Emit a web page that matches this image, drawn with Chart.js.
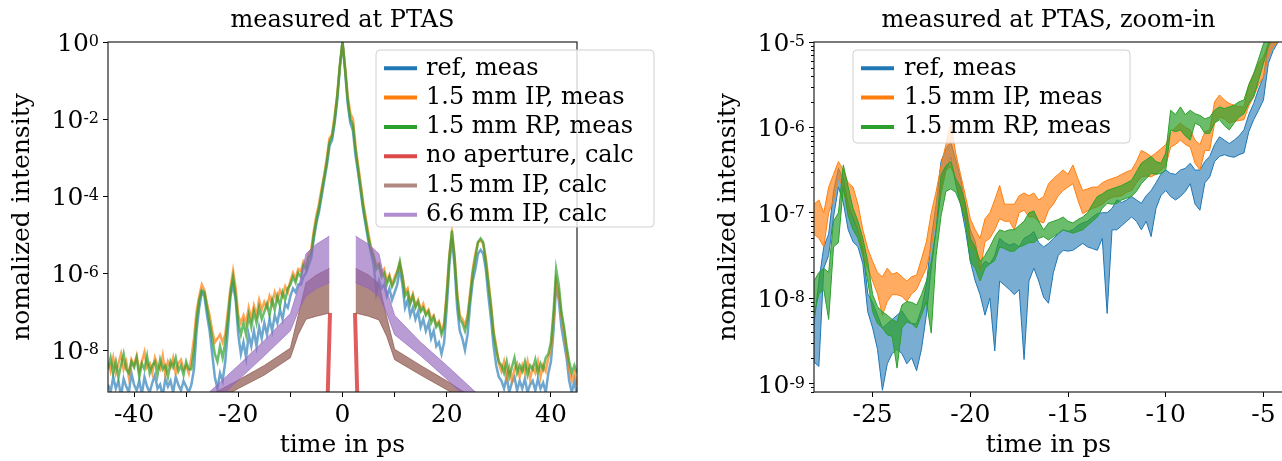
<!DOCTYPE html>
<html>
<head>
<meta charset="utf-8">
<title>measured at PTAS</title>
<script src="https://cdn.jsdelivr.net/npm/chart.js@4.4.1/dist/chart.umd.min.js"></script>
<style>
  html, body { margin: 0; padding: 0; background: #fff; overflow: hidden; }
  #wrap { position: relative; width: 1282px; height: 461px; overflow: hidden; }
  #left { position: absolute; left: 0; top: 0; }
  #right { position: absolute; left: 656px; top: 0; }
</style>
</head>
<body>
<div id="wrap">
  <canvas id="left" width="656" height="461"></canvas>
  <canvas id="right" width="640" height="461"></canvas>
</div>
<script>
var FONT = '"DejaVu Serif", serif';
Chart.defaults.font.family = FONT;
Chart.defaults.color = '#000';

// sampling grids (time in ps)
var tLeft = Array.from({length: 181}, function (_, i) { return -45 + i * 0.5; });
var tRight = Array.from({length: 97}, function (_, i) { return -28 + i * 0.25; });

// left panel, measured traces, log10(normalized intensity)
var refMeas = [
  -8.9,-9.1,-8.7,-9.0,-8.8,-9.2,-8.75,-8.95,-9.1,-8.6,-8.9,-9.05,-8.8,-9.15,-8.7,-8.95,
  -9.1,-8.85,-8.65,-9.0,-8.9,-9.2,-8.75,-8.95,-8.8,-9.1,-8.7,-8.9,-9.05,-8.8,-8.95,-9.1,
  -8.9,-8.5,-7.5,-6.9,-6.5,-6.6,-7.1,-7.5,-8.1,-8.7,-9.0,-8.6,-8.8,-8.3,-7.5,-6.6,-6.3,-6.7,-7.6,-8.1,
  -7.8,-8.2,-7.6,-7.9,-7.5,-7.9,-7.4,-7.7,-7.3,-7.6,-7.2,-7.5,-7.1,-7.3,-6.95,-7.2,-6.8,-6.9,
  -6.6,-6.4,-6.5,-6.3,-6.3,-6.1,-6.0,-5.8,-5.6,-5.1,-4.7,-4.4,-4.0,-3.6,-3.2,-2.7,-2.55,-2.1,-1.5,-0.65,
  0,
  -0.75,-1.6,-2.1,-2.3,-2.95,-3.4,-3.9,-4.4,-4.8,-5.2,-5.5,-5.8,-6.5,-6.2,-6.4,-6.3,-6.6,-6.4,-6.7,-6.5,
  -6.3,-5.9,-6.3,-6.9,-6.7,-7.1,-6.9,-7.2,-7.0,-7.4,-7.2,-7.5,-7.3,-7.7,-7.5,-7.9,-7.8,-8.1,-7.8,-6.9,
  -5.8,-5.1,-5.8,-6.9,-7.5,-7.7,-8.0,-7.6,-6.8,-6.2,-5.9,-5.5,-5.4,-5.5,-5.9,-6.6,-7.2,-7.9,-8.4,-8.7,
  -8.8,-9.0,-8.7,-9.1,-8.85,-8.7,-9.05,-8.8,-9.0,-8.75,-9.1,-8.9,-8.8,-9.05,-8.75,
  -9.0,-8.85,-9.1,-8.6,-8.3,-7.5,-6.3,-6.7,-7.4,-7.8,-8.2,-8.8,-9.1,-8.8,-9.2
];
var ipMeas = [
  -8.3,-8.55,-8.2,-8.6,-8.35,-8.1,-8.5,-8.3,-8.7,-8.25,-8.4,-8.15,-8.55,-8.3,-8.05,-8.45,
  -8.35,-8.6,-8.2,-8.4,-8.5,-8.15,-8.65,-8.3,-8.45,-8.2,-8.6,-8.35,-8.25,-8.5,-8.4,-8.6,
  -8.2,-7.7,-7.0,-6.6,-6.3,-6.45,-6.8,-7.1,-7.5,-7.8,-7.7,-7.6,-7.8,-7.6,-7.0,-6.4,-5.95,-6.4,-7.1,-7.3,
  -7.1,-7.3,-6.9,-7.2,-6.85,-7.1,-6.7,-6.95,-6.75,-6.9,-6.6,-6.8,-6.5,-6.7,-6.45,-6.6,-6.35,-6.5,
  -6.2,-6.0,-6.15,-5.9,-5.95,-5.7,-5.8,-5.5,-5.4,-4.9,-4.5,-4.2,-3.8,-3.45,-3.0,-2.5,-2.4,-1.9,-1.35,-0.6,
  0,
  -0.65,-1.4,-1.85,-2.0,-2.7,-3.2,-3.7,-4.2,-4.6,-5.0,-5.35,-5.55,-5.8,-5.75,-6.0,-5.9,-6.2,-6.05,-6.3,-6.1,
  -5.95,-5.75,-6.05,-6.5,-6.4,-6.75,-6.55,-6.85,-6.7,-6.95,-6.8,-7.05,-6.95,-7.2,-7.1,-7.35,-7.25,-7.5,-7.3,-6.5,
  -5.55,-4.95,-5.55,-6.5,-7.1,-7.2,-7.35,-7.1,-6.5,-5.9,-5.5,-5.2,-5.15,-5.25,-5.6,-6.2,-6.8,-7.5,-7.9,-8.35,
  -8.55,-8.3,-8.7,-8.45,-8.8,-8.5,-8.35,-8.7,-8.4,-8.6,-8.3,-8.75,-8.45,-8.6,-8.3,
  -8.7,-8.4,-8.55,-8.2,-8.0,-7.2,-6.2,-6.5,-7.1,-7.5,-8.0,-8.5,-8.8,-8.6,-8.9
];
var rpMeas = [
  -8.5,-8.2,-8.6,-8.3,-8.7,-8.4,-8.1,-8.5,-8.6,-8.3,-8.45,-8.2,-8.7,-8.35,-8.5,-8.15,
  -8.6,-8.4,-8.3,-8.65,-8.25,-8.5,-8.4,-8.7,-8.3,-8.45,-8.2,-8.55,-8.4,-8.65,-8.3,-8.5,
  -8.5,-8.0,-7.2,-6.7,-6.45,-6.5,-6.9,-7.3,-7.7,-8.1,-8.3,-7.9,-8.2,-7.8,-7.2,-6.5,-6.1,-6.6,-7.3,-7.6,
  -7.3,-7.6,-7.1,-7.4,-7.0,-7.3,-6.9,-7.2,-7.0,-6.8,-7.1,-6.7,-6.95,-6.6,-6.85,-6.5,-6.7,-6.4,
  -6.3,-6.1,-6.25,-6.0,-6.1,-5.8,-5.9,-5.6,-5.5,-5.0,-4.6,-4.3,-3.9,-3.5,-3.1,-2.6,-2.45,-2.0,-1.4,-0.6,
  0,
  -0.7,-1.5,-2.0,-2.15,-2.8,-3.3,-3.8,-4.3,-4.7,-5.1,-5.4,-5.6,-5.9,-5.8,-6.1,-6.0,-6.3,-6.1,-6.35,-6.2,
  -6.0,-5.7,-6.1,-6.6,-6.5,-6.8,-6.6,-6.9,-6.75,-7.0,-6.9,-7.1,-7.0,-7.3,-7.15,-7.4,-7.3,-7.6,-7.4,-6.6,
  -5.6,-4.9,-5.6,-6.6,-7.2,-7.3,-7.5,-7.2,-6.6,-6.0,-5.6,-5.2,-5.1,-5.2,-5.7,-6.3,-6.9,-7.6,-8.0,-8.3,
  -8.4,-8.6,-8.3,-8.7,-8.45,-8.2,-8.6,-8.4,-8.55,-8.3,-8.65,-8.4,-8.5,-8.25,-8.6,
  -8.35,-8.5,-8.2,-8.1,-7.8,-7.0,-5.9,-6.3,-7.0,-7.4,-7.9,-8.3,-8.6,-8.4,-8.6
];

// left panel, calculated curves (log10), null = gap around the main peak
var calcT = [-26, -24, -20, -15, -10, -8.5, -7, -5, -2.5, 0, 2.5, 5, 7, 8.5, 10, 15, 20, 24, 26];
var ip15CalcHi = [-9.25, -9.07, -8.78, -8.4, -7.95, -7.1, -6.25, -6.05, -5.88, null, -5.88, -6.05, -6.28, -7.15, -7.98, -8.4, -8.8, -9.15, -9.3];
var ip15CalcLo = [-9.5, -9.32, -9.0, -8.65, -8.2, -7.6, -7.2, -7.12, -7.04, null, -7.04, -7.12, -7.22, -7.65, -8.25, -8.65, -9.03, -9.38, -9.55];
var ip66CalcHi = [-9.15, -8.9, -8.4, -7.75, -7.05, -6.4, -5.5, -5.25, -5.04, null, -5.04, -5.25, -5.5, -6.45, -7.1, -7.8, -8.4, -8.9, -9.15];
var ip66CalcLo = [-9.55, -9.3, -8.78, -8.15, -7.5, -7.0, -6.6, -6.4, -6.25, null, -6.25, -6.4, -6.6, -7.05, -7.6, -8.15, -8.75, -9.3, -9.55];
var noApT = [-3.0, -2.8, -2.4, 0, 2.4, 2.8, 3.0];
var noApCalc = [-10, -9.0, -7.04, null, -7.04, -9.0, -10];

// right panel, min / max envelopes (log10), -28 .. -4 ps
var refHi = [-8.3,
  -7.8,-7.4,-7.25,-6.75, -6.48,-6.6,-6.9,-7.07, -7.2,-7.42,-7.95,-8.05, -8.2,-8.35,-8.3,-8.25,
  -8.2,-8.15,-8.24,-8.3, -8.3,-8.13,-7.85,-7.3, -6.9,-6.4,-6.25,-6.17, -6.38,-6.6,-6.9,-7.2,
  -7.34,-7.65,-7.57,-7.6, -7.5,-7.3,-7.35,-7.38, -7.36,-7.4,-7.3,-7.27, -7.22,-7.35,-7.4,-7.36,
  -7.3,-7.25,-7.2,-7.22, -7.2,-7.15,-7.12,-7.1, -7.05,-7.01,-7.0,-7.0, -6.95,-6.85,-6.88,-6.85,
  -6.81,-6.85,-6.89,-6.8, -6.74,-6.65,-6.55,-6.5, -6.54,-6.55,-6.5,-6.48, -6.42,-6.5,-6.5,-6.4,
  -6.34,-6.2,-6.11,-6.15, -6.19,-6.15,-6.1,-6.03, -5.85,-5.72,-5.55,-5.41, -5.02,-4.9,-4.85,-4.8];
var refLo = [-8.75,
  -8.8,-7.65,-7.5,-7.05, -6.7,-6.88,-7.2,-7.34, -7.4,-7.6,-8.16,-8.35, -8.6,-9.08,-8.77,-8.65,
  -8.6,-8.65,-8.77,-8.7, -8.85,-8.6,-8.2,-7.65, -7.2,-6.77,-6.5,-6.35, -6.66,-6.9,-7.2,-7.57,
  -7.8,-7.96,-8.2,-8.0, -8.62,-7.8,-7.85,-7.9, -7.96,-7.9,-8.72,-7.8, -7.65,-7.8,-7.99,-8.06,
  -7.7,-7.5,-7.44,-7.45, -7.44,-7.4,-7.36,-7.4, -7.42,-7.44,-7.3,-8.18, -7.2,-7.2,-7.15,-7.1,
  -7.05,-7.1,-7.2,-7.1, -7.28,-6.95,-6.8,-6.74, -6.81,-6.85,-6.81,-6.75, -6.66,-6.9,-6.97,-6.65,
  -6.58,-6.4,-6.34,-6.32, -6.34,-6.35,-6.32,-6.3, -6.05,-5.91,-5.8,-5.68, -5.25,-5.1,-5.0,-4.95];
var ipHi = [-6.9,
  -6.85,-7.0,-6.7,-6.55, -6.4,-6.5,-6.65,-6.7, -6.9,-7.2,-7.42,-7.57, -7.7,-7.75,-7.65,-7.72,
  -7.7,-7.75,-7.8,-7.75, -7.73,-7.54,-7.34,-7.0, -6.75,-6.45,-6.2,-5.95, -6.3,-6.55,-6.8,-7.07,
  -7.2,-7.3,-7.07,-7.0, -6.85,-6.68,-6.9,-6.9, -6.9,-6.8,-6.77,-6.8, -6.77,-6.85,-6.81,-6.66,
  -6.6,-6.55,-6.5,-6.55, -6.44,-6.6,-6.74,-6.72, -6.7,-6.7,-6.65,-6.62, -6.6,-6.58,-6.55,-6.52,
  -6.5,-6.4,-6.27,-6.3, -6.34,-6.3,-6.25,-6.2, -6.07,-6.0,-5.95,-6.0, -6.03,-6.15,-6.2,-6.05,
  -6.03,-5.7,-5.62,-5.68, -5.72,-5.74,-5.76,-5.76, -5.5,-5.37,-5.25,-5.17, -5.02,-4.9,-4.85,-4.8];
var ipLo = [-7.25,
  -7.3,-7.4,-7.0,-6.85, -6.58,-6.72,-7.0,-7.04, -7.2,-7.5,-7.65,-7.8, -7.95,-8.2,-8.04,-7.96,
  -7.96,-7.98,-8.04,-7.95, -7.9,-7.77,-7.65,-7.4, -7.05,-6.77,-6.5,-6.46, -6.6,-6.85,-7.1,-7.38,
  -7.45,-7.68,-7.34,-7.3, -7.2,-7.07,-7.1,-7.1, -7.2,-7.0,-6.97,-7.05, -7.05,-7.1,-7.12,-6.97,
  -6.9,-6.8,-6.74,-6.7, -6.66,-6.85,-7.01,-6.98, -6.95,-6.93,-6.9,-6.85, -6.82,-6.81,-6.8,-6.76,
  -6.74,-6.65,-6.58,-6.57, -6.58,-6.55,-6.5,-6.45, -6.23,-6.2,-6.15,-6.2, -6.23,-6.42,-6.5,-6.27,
  -6.27,-5.95,-5.88,-5.9, -5.95,-5.93,-5.92,-5.91, -5.75,-5.64,-5.5,-5.41, -5.17,-5.05,-5.0,-4.95];
var rpHi = [-7.8,
  -7.7,-7.65,-7.7,-7.1, -7.0,-6.44,-6.7,-6.95, -7.1,-7.3,-7.57,-7.96, -8.1,-8.16,-8.2,-8.25,
  -8.28,-8.08,-8.04,-8.05, -8.08,-7.96,-7.8,-7.57, -7.2,-6.56,-6.45,-6.4, -6.6,-6.7,-6.9,-7.3,
  -7.4,-7.57,-7.5,-7.4, -7.28,-7.2,-7.22,-7.2, -7.2,-7.15,-7.1,-7.0, -6.98,-7.1,-7.2,-7.12,
  -7.1,-7.08,-7.05,-7.1, -7.12,-7.08,-7.05,-7.0, -6.9,-6.81,-6.78,-6.74, -6.72,-6.7,-6.68,-6.65,
  -6.62,-6.52,-6.42,-6.38, -6.34,-6.4,-6.42,-6.3, -5.8,-5.85,-5.76,-5.85, -5.8,-5.84,-5.86,-5.9,
  -5.88,-5.8,-5.76,-5.78, -5.76,-5.74,-5.7,-5.68, -5.5,-5.37,-5.2,-5.02, -4.9,-4.8,-4.8,-4.75];
var rpLo = [-8.2,
  -7.95,-7.9,-8.25,-7.4, -7.35,-6.7,-7.04,-7.2, -7.3,-7.5,-7.8,-8.16, -8.3,-8.35,-8.43,-8.45,
  -8.82,-8.35,-8.28,-8.3, -8.35,-8.2,-8.04,-8.41, -7.5,-7.04,-6.75,-6.72, -6.76,-6.9,-7.1,-7.57,
  -7.65,-7.8,-7.65,-7.6, -7.56,-7.4,-7.42,-7.45, -7.45,-7.4,-7.38,-7.35, -7.35,-7.3,-7.28,-7.32,
  -7.28,-7.24,-7.2,-7.22, -7.24,-7.22,-7.2,-7.15, -7.1,-7.05,-6.95,-6.89, -6.9,-6.89,-6.85,-6.83,
  -6.81,-6.75,-6.66,-6.6, -6.54,-6.55,-6.54,-6.5, -6.03,-6.05,-6.03,-6.1, -6.15,-5.95,-5.98,-6.07,
  -6.07,-5.95,-5.91,-5.98, -6.03,-5.95,-5.88,-5.84, -5.72,-5.64,-5.45,-5.25, -5.05,-4.95,-4.95,-4.9];

var xTicksLeft = [-40, -30, -20, -10, 0, 10, 20, 30, 40];
var xTicksRight = [-25, -20, -15, -10, -5];
var yTicksLeft = [0, -2, -4, -6, -8];
var yTicksRight = [-5, -6, -7, -8, -9];

var BLUE = '31,119,180', ORANGE = '255,127,14', GREEN = '44,160,44';
var RED = '214,39,40', BROWN = '140,86,75', PURPLE = '148,103,189';

function toPoints(ts, logs) {
  return ts.map(function (t, i) {
    return {x: t, y: logs[i] === null ? null : Math.pow(10, logs[i])};
  });
}

function line(ts, logs, rgb, alpha, width, order, fill, fillAlpha) {
  return {
    data: toPoints(ts, logs),
    borderColor: 'rgba(' + rgb + ',' + alpha + ')',
    backgroundColor: 'rgba(' + rgb + ',' + (fillAlpha || alpha) + ')',
    borderWidth: width,
    pointRadius: 0,
    tension: 0,
    spanGaps: false,
    fill: fill || false,
    order: order,
    clip: 0
  };
}

function xAxis(min, max, ticks, every) {
  return {
    type: 'linear', min: min, max: max,
    afterBuildTicks: function (s) { s.ticks = ticks.map(function (v) { return {value: v}; }); },
    afterFit: function (s) { s.height = 69; },
    ticks: {
      font: {size: 25}, padding: 3, maxRotation: 0, autoSkip: false,
      callback: function (v) { return v % every === 0 ? String(v) : ''; }
    },
    grid: {drawOnChartArea: false, tickLength: 5, tickColor: '#000', tickWidth: 1},
    border: {display: false},
    title: {display: true, text: 'time in ps', font: {size: 25}, padding: {top: 0, bottom: 1}}
  };
}

function yAxis(minLog, maxLog, majors, width, titlePad) {
  return {
    type: 'logarithmic', min: Math.pow(10, minLog), max: Math.pow(10, maxLog),
    afterBuildTicks: function (s) { s.ticks = majors.map(function (e) { return {value: Math.pow(10, e)}; }); },
    afterFit: function (s) { s.width = width; },
    ticks: {display: false},
    grid: {drawOnChartArea: false, tickLength: 5, tickColor: '#000', tickWidth: 1},
    border: {display: false},
    title: {display: true, text: 'nomalized intensity', font: {size: 25}, padding: {top: titlePad, bottom: 0}}
  };
}

var frame = {
  id: 'frame',
  afterDatasetsDraw: function (chart) {
    var a = chart.chartArea, ctx = chart.ctx;
    ctx.save();
    ctx.strokeStyle = '#222';
    ctx.lineWidth = 1.2;
    ctx.strokeRect(a.left, a.top, a.right - a.left, a.bottom - a.top);
    ctx.restore();
  }
};

// "10" with a raised exponent for each major log tick
var expTicks = {
  id: 'expTicks',
  afterDraw: function (chart, args, opts) {
    var s = chart.scales.y, ctx = chart.ctx;
    var xr = s.right - 9;
    ctx.save();
    ctx.fillStyle = '#000';
    ctx.textAlign = 'left';
    ctx.textBaseline = 'alphabetic';
    s.ticks.forEach(function (t) {
      var py = s.getPixelForValue(t.value);
      var e = String(Math.round(Math.log10(t.value)));
      ctx.font = '16px ' + FONT;
      var we = ctx.measureText(e).width;
      ctx.font = '25px ' + FONT;
      var wb = ctx.measureText('10').width;
      ctx.fillText('10', xr - we - wb, py + 9.1);
      ctx.font = '16px ' + FONT;
      ctx.fillText(e, xr - we, py + 4.3);
    });
    if (opts && opts.minor) {
      var left = chart.chartArea.left;
      ctx.strokeStyle = '#000';
      ctx.lineWidth = 1;
      for (var k = -10; k <= -6; k++) {
        for (var m = 2; m <= 9; m++) {
          var v = m * Math.pow(10, k);
          if (v < s.min || v > s.max) continue;
          var y = Math.round(s.getPixelForValue(v)) + 0.5;
          ctx.beginPath();
          ctx.moveTo(left - 3, y);
          ctx.lineTo(left, y);
          ctx.stroke();
        }
      }
    }
    ctx.restore();
  }
};

var boxLegend = {
  id: 'boxLegend',
  afterDraw: function (chart, args, o) {
    var ctx = chart.ctx;
    ctx.save();
    var r = 4, x = o.x, y = o.y, w = o.w, h = o.h;
    ctx.beginPath();
    ctx.moveTo(x + r, y);
    ctx.arcTo(x + w, y, x + w, y + h, r);
    ctx.arcTo(x + w, y + h, x, y + h, r);
    ctx.arcTo(x, y + h, x, y, r);
    ctx.arcTo(x, y, x + w, y, r);
    ctx.closePath();
    ctx.fillStyle = 'rgba(255,255,255,0.8)';
    ctx.fill();
    ctx.strokeStyle = '#d0d0d0';
    ctx.lineWidth = 1;
    ctx.stroke();
    ctx.font = '24px ' + FONT;
    ctx.textBaseline = 'middle';
    ctx.textAlign = 'left';
    o.rows.forEach(function (row, i) {
      var ry = o.rowY + i * o.rowStep;
      ctx.strokeStyle = row.color;
      ctx.lineWidth = 4;
      ctx.beginPath();
      ctx.moveTo(o.lineX, ry);
      ctx.lineTo(o.lineX + 33, ry);
      ctx.stroke();
      ctx.fillStyle = '#000';
      ctx.fillText(row.label, o.textX, ry);
    });
    ctx.restore();
  }
};

new Chart(document.getElementById('left'), {
  type: 'line',
  data: {
    datasets: [
      line(tLeft, refMeas, BLUE, 0.65, 2.5, 8),
      line(tLeft, ipMeas, ORANGE, 0.7, 2.5, 7),
      line(tLeft, rpMeas, GREEN, 0.7, 2.5, 6),
      line(noApT, noApCalc, RED, 0.75, 4, 5),
      line(calcT, ip15CalcHi, BROWN, 0.7, 1, 4, '+1'),
      line(calcT, ip15CalcLo, BROWN, 0.7, 1, 4),
      line(calcT, ip66CalcHi, PURPLE, 0.65, 1, 3, '+1'),
      line(calcT, ip66CalcLo, PURPLE, 0.65, 1, 3)
    ]
  },
  options: {
    responsive: false,
    animation: false,
    events: [],
    layout: {padding: {left: 0, right: 79, top: 0, bottom: 0}},
    scales: {
      x: xAxis(-45, 45, xTicksLeft, 20),
      y: yAxis(-9.09, 0, yTicksLeft, 108, 7)
    },
    plugins: {
      legend: {display: false},
      tooltip: {enabled: false},
      title: {
        display: true, text: 'measured at PTAS', fullSize: false,
        font: {size: 24, weight: 'normal'}, padding: {top: 6, bottom: 7.2}
      },
      boxLegend: {
        x: 376, y: 50, w: 278, h: 177, lineX: 384, textX: 426, rowY: 68.3, rowStep: 29.3,
        rows: [
          {label: 'ref, meas', color: 'rgb(' + BLUE + ')'},
          {label: '1.5 mm IP, meas', color: 'rgb(' + ORANGE + ')'},
          {label: '1.5 mm RP, meas', color: 'rgb(' + GREEN + ')'},
          {label: 'no aperture, calc', color: 'rgba(' + RED + ',0.85)'},
          {label: '1.5\u2009mm IP, calc', color: 'rgba(' + BROWN + ',0.7)'},
          {label: '6.6\u2009mm IP, calc', color: 'rgba(' + PURPLE + ',0.75)'}
        ]
      }
    }
  },
  plugins: [frame, expTicks, boxLegend]
});

new Chart(document.getElementById('right'), {
  type: 'line',
  data: {
    datasets: [
      line(tRight, refHi, BLUE, 1, 1, 3, '+1', 0.6),
      line(tRight, refLo, BLUE, 1, 1, 3),
      line(tRight, ipHi, ORANGE, 1, 1, 2, '+1', 0.65),
      line(tRight, ipLo, ORANGE, 1, 1, 2),
      line(tRight, rpHi, GREEN, 1, 1, 1, '+1', 0.7),
      line(tRight, rpLo, GREEN, 1, 1, 1)
    ]
  },
  options: {
    responsive: false,
    animation: false,
    events: [],
    layout: {padding: {left: 0, right: 13, top: 0, bottom: 0}},
    scales: {
      x: xAxis(-28, -4, xTicksRight, 5),
      y: yAxis(-9.1, -5, yTicksRight, 158, 57)
    },
    plugins: {
      legend: {display: false},
      tooltip: {enabled: false},
      title: {
        display: true, text: 'measured at PTAS, zoom-in', fullSize: false,
        font: {size: 24, weight: 'normal'}, padding: {top: 6, bottom: 7.2}
      },
      expTicks: {minor: true},
      boxLegend: {
        x: 197, y: 50, w: 277, h: 93, lineX: 205, textX: 248, rowY: 68.3, rowStep: 29.3,
        rows: [
          {label: 'ref, meas', color: 'rgb(' + BLUE + ')'},
          {label: '1.5 mm IP, meas', color: 'rgb(' + ORANGE + ')'},
          {label: '1.5 mm RP, meas', color: 'rgb(' + GREEN + ')'}
        ]
      }
    }
  },
  plugins: [frame, expTicks, boxLegend]
});
</script>
</body>
</html>
